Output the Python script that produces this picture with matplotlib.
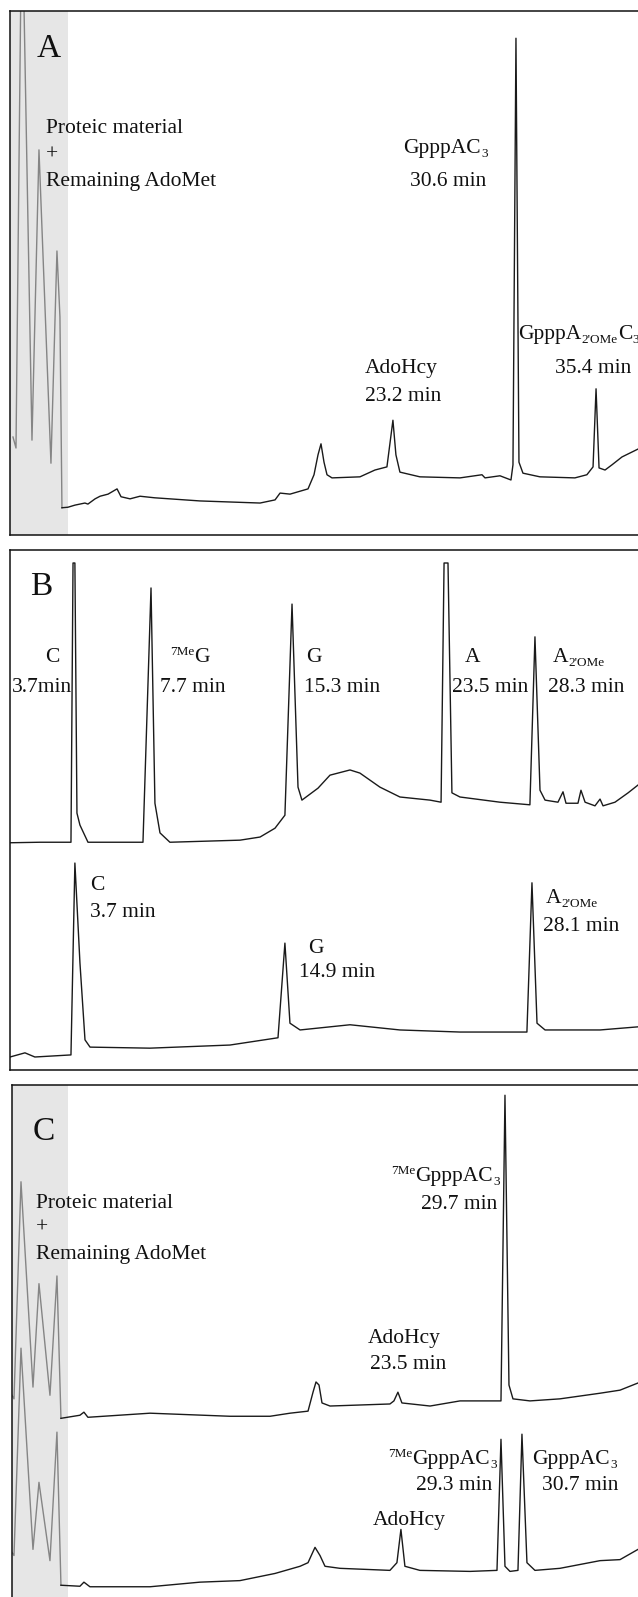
import matplotlib
matplotlib.use("Agg")
import matplotlib.pyplot as plt

# ---------------- data (retention time in min, relative absorbance in % of panel height)
# Panel A
A_gray_t = [0.36, 0.54, 0.82, 1.02, 1.50, 1.92, 2.64, 3.00, 3.18, 3.30]
A_gray_s = [18.7, 16.6, 101.0, 101.0, 18.1, 73.5, 13.7, 54.2, 41.6, 5.2]
A_t = [3.30, 3.66, 4.08, 4.68, 4.86, 5.29, 5.59, 6.07, 6.61, 6.85,
       7.39, 7.99, 8.87, 11.59, 13.39, 15.20, 16.10, 16.40, 17.00, 18.08,
       18.44, 18.68, 18.86, 19.04, 19.22, 19.52, 21.20, 22.10, 22.82, 23.18,
       23.36, 23.60, 24.80, 27.21, 28.53, 28.71, 29.61, 30.27, 30.39, 30.57,
       30.75, 30.99, 32.01, 34.11, 34.83, 35.20, 35.38, 35.56, 35.92, 36.34,
       36.94, 37.90]
A_s = [5.2, 5.3, 5.7, 6.1, 5.9, 6.9, 7.4, 7.8, 8.8, 7.3,
       6.9, 7.4, 7.1, 6.5, 6.3, 6.1, 6.7, 8.0, 7.8, 8.8,
       11.5, 15.3, 17.4, 13.9, 11.5, 10.9, 11.1, 12.4, 13.0, 21.9,
       15.3, 12.0, 11.1, 10.9, 11.5, 10.9, 11.3, 10.5, 13.4, 94.8,
       13.9, 11.8, 11.1, 10.9, 11.5, 13.0, 27.9, 12.8, 12.4, 13.4,
       14.9, 16.4]

# Panel B, upper trace (standards)
B1_t = [0.27, 1.87, 3.53, 3.64, 3.74, 3.85, 4.01, 4.44, 7.38, 7.81,
        8.02, 8.29, 8.82, 12.57, 13.64, 14.44, 14.97, 15.35, 15.67, 15.88,
        16.74, 17.38, 18.45, 18.98, 20.05, 21.12, 22.73, 23.32, 23.48, 23.69,
        23.90, 24.33, 26.47, 28.07, 28.34, 28.61, 28.88, 29.57, 29.84, 30.00,
        30.64, 30.80, 31.02, 31.55, 31.82, 31.98, 32.62, 33.32, 33.85]
B1_s = [43.7, 43.8, 43.8, 97.5, 97.5, 49.4, 47.1, 43.8, 43.8, 92.7,
        51.3, 45.6, 43.8, 44.2, 44.8, 46.5, 49.0, 89.6, 54.4, 51.9,
        54.2, 56.7, 57.7, 57.1, 54.4, 52.5, 51.9, 51.5, 97.5, 97.5,
        53.3, 52.5, 51.5, 51.0, 83.3, 53.8, 51.9, 51.5, 53.5, 51.3,
        51.3, 53.8, 51.5, 50.8, 52.1, 50.8, 51.5, 53.3, 54.8]
# Panel B, lower trace (digest)
B2_t = [0.27, 1.07, 1.60, 3.53, 3.74, 4.01, 4.28, 4.55, 7.75, 12.03,
        14.60, 14.97, 15.24, 15.78, 18.45, 20.05, 21.12, 24.33, 27.91, 28.18,
        28.45, 28.88, 31.82, 33.85]
B2_s = [2.5, 3.3, 2.5, 2.9, 39.8, 20.6, 5.8, 4.4, 4.2, 4.8,
        6.2, 24.4, 9.0, 7.7, 8.7, 8.1, 7.7, 7.3, 7.3, 36.0,
        9.0, 7.7, 7.7, 8.3]

# Panel C, upper trace
C1_gray_t = [0.30, 0.42, 0.84, 1.56, 1.92, 2.58, 3.00, 3.24]
C1_gray_s = [39.4, 38.7, 81.1, 41.0, 61.2, 39.4, 62.7, 34.9]
C1_t = [3.24, 4.38, 4.62, 4.86, 8.59, 13.39, 15.80, 17.00, 18.08, 18.38,
        18.56, 18.74, 18.92, 19.40, 23.00, 23.24, 23.48, 23.72, 25.41, 27.21,
        29.67, 29.91, 30.15, 30.39, 31.41, 33.21, 35.62, 36.82, 37.90]
C1_s = [34.9, 35.5, 36.1, 35.1, 35.9, 35.3, 35.3, 35.9, 36.3, 40.0,
        42.0, 41.4, 37.9, 37.3, 37.7, 38.3, 40.0, 37.9, 37.3, 38.3,
        38.3, 98.0, 41.4, 38.7, 38.3, 38.7, 39.8, 40.4, 41.8]
# Panel C, lower trace
C2_gray_t = [0.30, 0.42, 0.84, 1.56, 1.92, 2.58, 3.00, 3.24]
C2_gray_s = [8.7, 8.1, 48.6, 9.3, 22.4, 7.1, 32.2, 2.3]
C2_t = [3.24, 4.38, 4.62, 4.98, 8.59, 11.59, 13.99, 16.10, 17.60, 18.08,
        18.50, 18.80, 19.10, 20.00, 23.00, 23.42, 23.66, 23.90, 24.80, 27.81,
        29.43, 29.67, 29.91, 30.21, 30.69, 30.93, 31.23, 31.71, 33.21, 35.62,
        36.82, 37.90]
C2_s = [2.3, 2.1, 2.9, 2.0, 2.0, 2.9, 3.2, 4.6, 6.0, 6.7,
        9.7, 8.1, 6.0, 5.6, 5.2, 6.7, 13.2, 6.0, 5.2, 5.0,
        5.2, 30.8, 6.0, 5.0, 5.2, 31.8, 6.7, 5.2, 5.6, 7.1,
        7.3, 9.3]

GRAY_END = 3.66  # end of shaded "proteic material" zone (min)

# ---------------- style
plt.rcParams['font.family'] = ['Liberation Serif', 'DejaVu Serif']

W, H = 638, 1597
fig = plt.figure(figsize=(W / 100, H / 100), dpi=100)
renderer = fig.canvas.get_renderer()

TRACE = '#1a1a1a'
GTRACE = '#858585'
SHADE = '#e6e6e6'
TXT = '#111111'
LW = 1.0
FS = 15.5   # label size
SS = 9.5    # sub/superscript size


def panel(left, top, bottom, xlim, show_bottom=True):
    ax = fig.add_axes([left / W, 1 - bottom / H, (W - left) / W, (bottom - top) / H])
    ax.set_xlim(*xlim)
    ax.set_ylim(0, 100)
    ax.set_xticks([])
    ax.set_yticks([])
    ax.spines['right'].set_visible(False)
    ax.spines['bottom'].set_visible(show_bottom)
    for sp in ('top', 'left', 'bottom'):
        ax.spines[sp].set_linewidth(1.1)
        ax.spines[sp].set_color('#111111')
    return ax


def label(x, y, s, size=FS):
    fig.text(x / W, 1 - y / H, s, ha='left', va='baseline', fontsize=size, color=TXT)


def rich(x, y, parts):
    """parts: list of (text, kind) with kind in 'n' (normal), 'sub', 'sup'."""
    cx = x
    for s, kind in parts:
        if kind == 'n':
            size, dy = FS, 0
        elif kind == 'sub':
            size, dy = SS, 4
        else:
            size, dy = SS, -7
        t = fig.text(cx / W, 1 - (y + dy) / H, s, ha='left', va='baseline',
                     fontsize=size, color=TXT)
        cx += t.get_window_extent(renderer).width + 0.3


# Panel A
axA = panel(10, 11, 535, (0.18, 37.90))
axA.axvspan(0.18, GRAY_END, color=SHADE, lw=0, zorder=0)
axA.plot(A_gray_t, A_gray_s, color=GTRACE, lw=LW)
axA.plot(A_t, A_s, color=TRACE, lw=LW)

# Panel B
axB = panel(10, 550, 1070, (0.27, 33.85))
axB.plot(B1_t, B1_s, color=TRACE, lw=LW)
axB.plot(B2_t, B2_s, color=TRACE, lw=LW)

# Panel C
axC = panel(12, 1085, 1597, (0.30, 37.90), show_bottom=False)
axC.axvspan(0.30, GRAY_END, color=SHADE, lw=0, zorder=0)
axC.plot(C1_gray_t, C1_gray_s, color=GTRACE, lw=LW)
axC.plot(C1_t, C1_s, color=TRACE, lw=LW)
axC.plot(C2_gray_t, C2_gray_s, color=GTRACE, lw=LW)
axC.plot(C2_t, C2_s, color=TRACE, lw=LW)

# ---------------- labels
# A
label(37, 57, 'A', size=24)
label(46, 133, 'Proteic material')
label(46, 160, '+')
label(46, 186, 'Remaining AdoMet')
rich(403, 153, [('GpppAC', 'n'), ('3', 'sub')])
label(410, 186, '30.6 min')
label(365, 373, 'AdoHcy')
label(365, 401, '23.2 min')
rich(518, 339, [('GpppA', 'n'), ("2'OMe", 'sub'), ('C', 'n'), ('3', 'sub')])
label(555, 373, '35.4 min')

# B
label(30, 595, 'B', size=24)
label(45, 662, 'C')
label(12, 692, '3.7min')
rich(170, 662, [('7Me', 'sup'), ('G', 'n')])
label(160, 692, '7.7 min')
label(306, 662, 'G')
label(304, 692, '15.3 min')
label(465, 662, 'A')
label(452, 692, '23.5 min')
rich(553, 662, [('A', 'n'), ("2'OMe", 'sub')])
label(548, 692, '28.3 min')
label(90, 890, 'C')
label(90, 917, '3.7 min')
label(308, 953, 'G')
label(299, 977, '14.9 min')
rich(546, 903, [('A', 'n'), ("2'OMe", 'sub')])
label(543, 931, '28.1 min')

# C
label(33, 1140, 'C', size=24)
label(36, 1208, 'Proteic material')
label(36, 1233, '+')
label(36, 1259, 'Remaining AdoMet')
rich(391, 1181, [('7Me', 'sup'), ('GpppAC', 'n'), ('3', 'sub')])
label(421, 1209, '29.7 min')
label(368, 1343, 'AdoHcy')
label(370, 1369, '23.5 min')
rich(388, 1464, [('7Me', 'sup'), ('GpppAC', 'n'), ('3', 'sub')])
label(416, 1490, '29.3 min')
rich(532, 1464, [('GpppAC', 'n'), ('3', 'sub')])
label(542, 1490, '30.7 min')
label(373, 1525, 'AdoHcy')

fig.savefig('out.png', dpi=100)
